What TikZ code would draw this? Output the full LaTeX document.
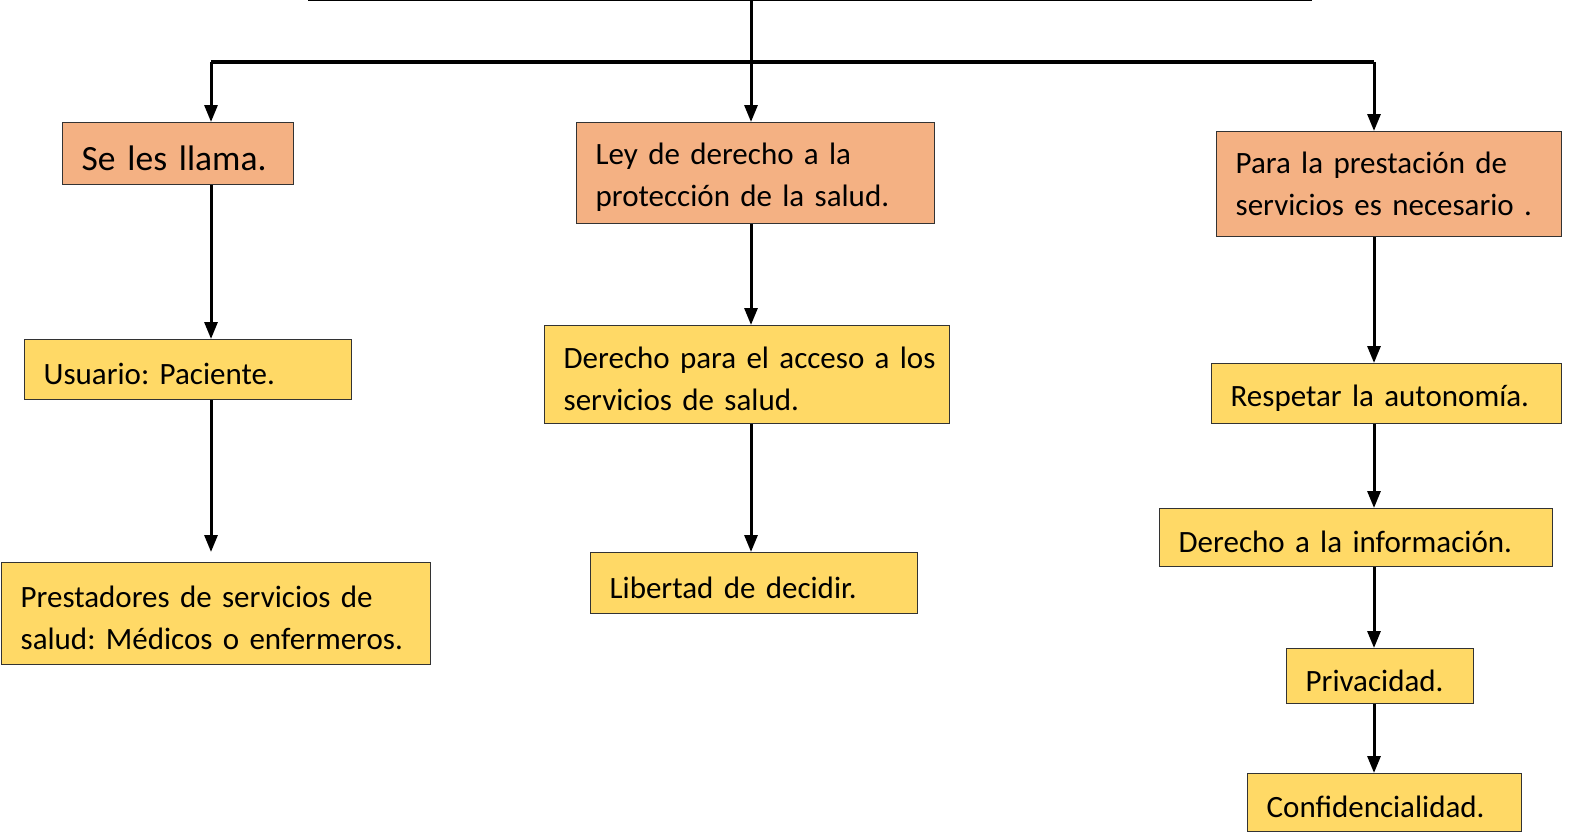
\documentclass[tikz,border=0pt]{standalone}
\usepackage{fontspec}
\setmainfont{Carlito}
\usetikzlibrary{arrows.meta}
\definecolor{orangebox}{HTML}{F4B183}
\definecolor{yellowbox}{HTML}{FFD966}
\frenchspacing
\newcommand{\oneline}[1]{\raisebox{-4.5bp}[\height][\depth]{\mbox{#1}}}
\newcommand{\onelineup}[1]{\mbox{#1}}
\begin{document}
\begin{tikzpicture}[x=1bp,y=-1bp,
  bx/.style={draw=black!80, line width=1.3bp, anchor=north west, inner xsep=19bp, inner ysep=0pt,
    align=left, font=\fontsize{31bp}{42bp}\selectfont},
  obox/.style={bx, fill=orangebox},
  ybox/.style={bx, fill=yellowbox},
  arr/.style={line width=3bp, -{Triangle[width=13bp,length=17bp]}},
  bus/.style={line width=4bp}]
\useasboundingbox (0,0) rectangle (1575,836);
% cut-off title box
\node[draw=black, line width=2bp, anchor=south west, minimum width=1002bp, minimum height=120bp, inner sep=0pt] (title) at (308,1) {};
\coordinate (cL) at (211,0);
\coordinate (cM) at (751,0);
\coordinate (cR) at (1374,0);
\coordinate (busL) at (211,62);
\coordinate (busR) at (1374,62);
% boxes
\node[obox, text width=193bp, minimum height=62bp, font=\fontsize{35.5bp}{42bp}\selectfont] (seles) at (62,122) {\oneline{Se les llama.}};
\node[obox, text width=320bp, minimum height=101bp] (ley) at (576,122) {\oneline{Ley de derecho a la}\\\oneline{protección de la salud.}};
\node[obox, text width=307bp, minimum height=105bp] (para) at (1216,131) {\onelineup{Para la prestación de}\\\onelineup{servicios es necesario .}};
\node[ybox, text width=289bp, minimum height=60bp] (usuario) at (24,339) {\oneline{Usuario: Paciente.}};
\node[ybox, text width=391bp, minimum height=102bp] (prest) at (1,562) {\oneline{Prestadores de servicios de}\\\oneline{salud: Médicos o enfermeros.}};
\node[ybox, text width=367bp, minimum height=98bp] (dacc) at (544,325) {\oneline{Derecho para el acceso a los}\\\oneline{servicios de salud.}};
\node[ybox, text width=289bp, minimum height=61bp] (lib) at (590,552) {\oneline{Libertad de decidir.}};
\node[ybox, text width=312bp, minimum height=60bp] (resp) at (1211,363) {\oneline{Respetar la autonomía.}};
\node[ybox, text width=355bp, minimum height=58bp] (dinf) at (1159,508) {\oneline{Derecho a la información.}};
\node[ybox, text width=149bp, minimum height=55bp] (priv) at (1286,648) {\oneline{Privacidad.}};
\node[ybox, text width=236bp, minimum height=58bp] (conf) at (1247,773) {\oneline{Confidencialidad.}};
% connectors
\draw[bus] (busL) -- (busR);
\draw[arr] (busL) -- (seles.north -| cL);
\draw[arr] (busR) -- (para.north -| cR);
\draw[arr] (title.south -| cM) -- (ley.north -| cM);
\draw[arr] (seles.south -| cL) -- (usuario.north -| cL);
\draw[arr, shorten >=10bp] (usuario.south -| cL) -- (prest.north -| cL);
\draw[arr] (ley.south -| cM) -- (dacc.north -| cM);
\draw[arr] (dacc.south -| cM) -- (lib.north -| cM);
\draw[arr] (para.south -| cR) -- (resp.north -| cR);
\draw[arr] (resp.south -| cR) -- (dinf.north -| cR);
\draw[arr] (dinf.south -| cR) -- (priv.north -| cR);
\draw[arr] (priv.south -| cR) -- (conf.north -| cR);
\end{tikzpicture}
\end{document}
